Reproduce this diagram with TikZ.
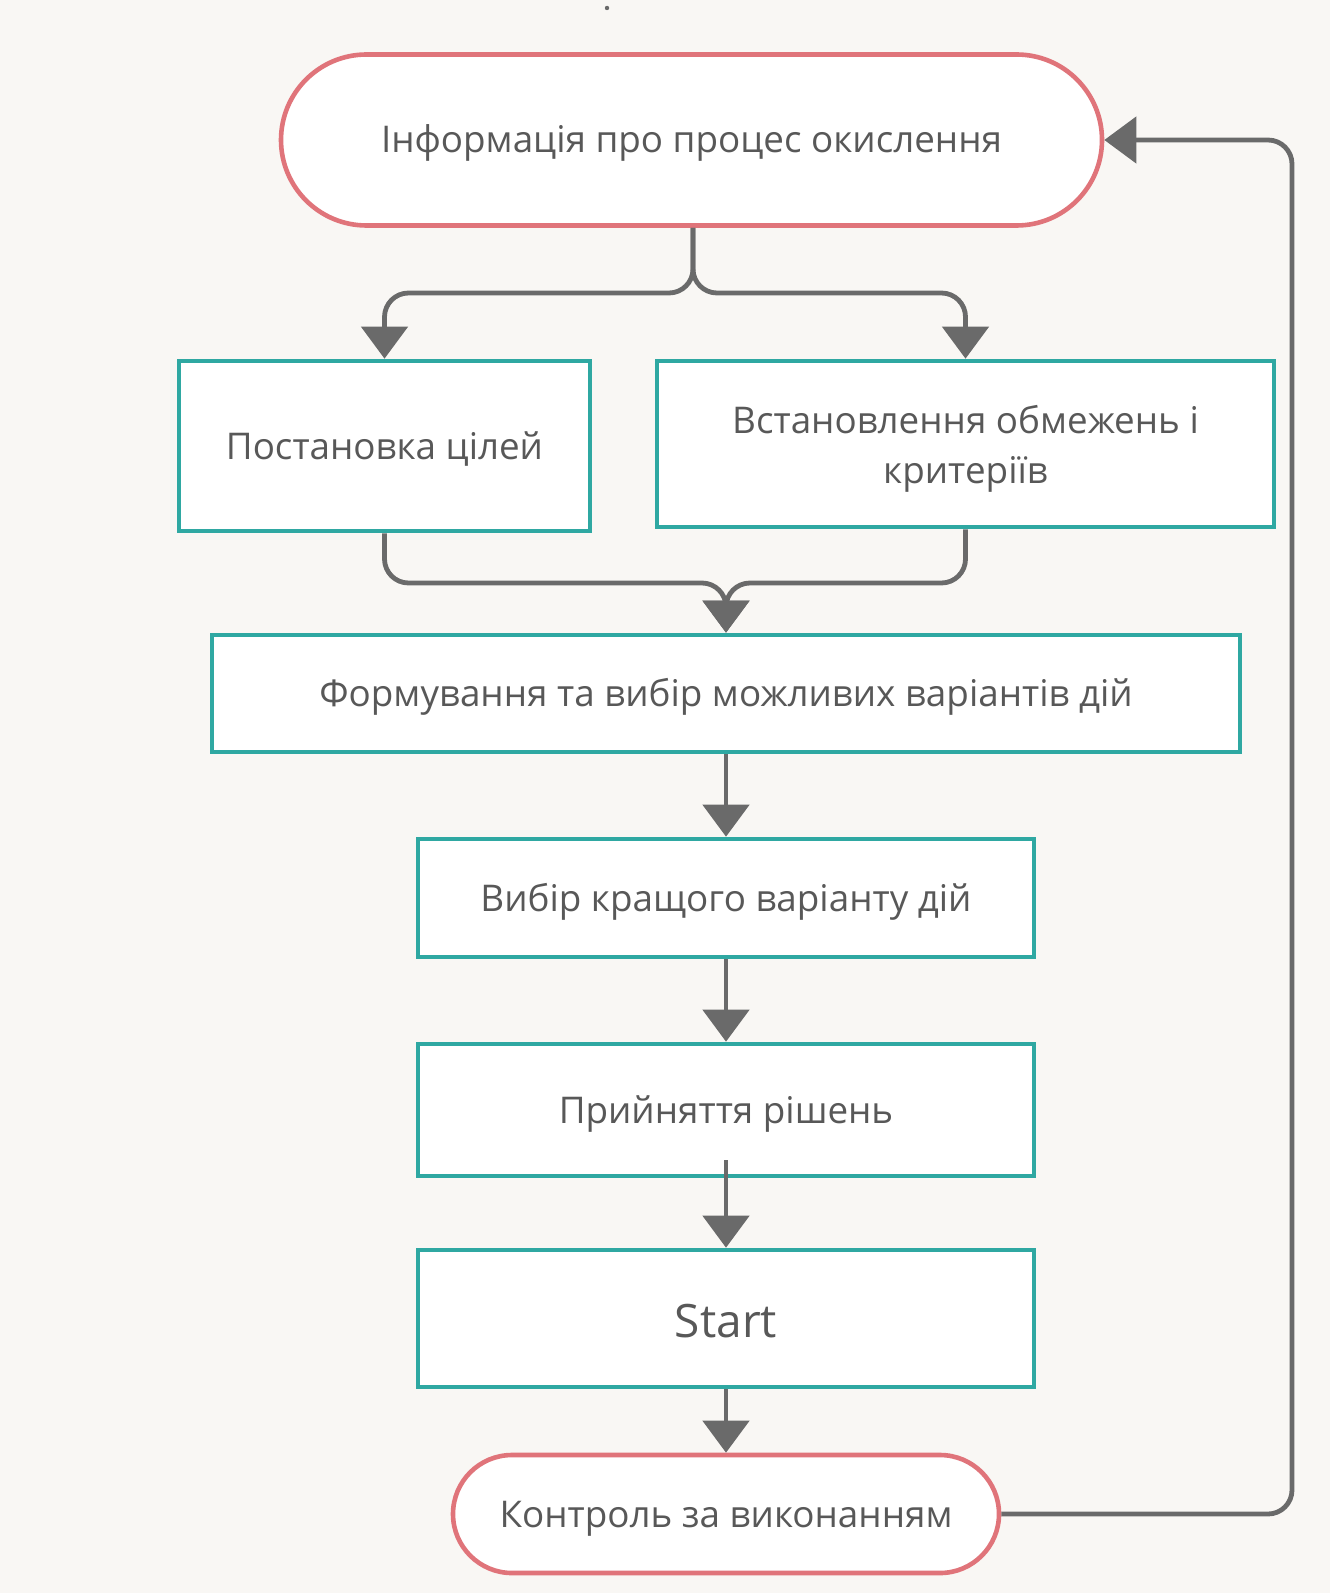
\documentclass[tikz,border=0pt]{standalone}
\usepackage{fontspec}
\setmainfont{Open Sans}
\usetikzlibrary{arrows.meta}
\definecolor{paper}{HTML}{F9F7F4}
\definecolor{tealline}{HTML}{2FA8A2}
\definecolor{redline}{HTML}{E0747A}
\definecolor{linkgray}{HTML}{6A6A6A}
\definecolor{txtgray}{HTML}{585858}
\tikzset{
  boxtext/.style={text=txtgray, font=\fontsize{18.4}{25}\selectfont,
    align=center, inner sep=0pt, text height=18pt, text depth=5pt},
  procbox/.style={boxtext, draw=tealline, line width=2.3pt, fill=white},
  termbox/.style={boxtext, draw=redline, line width=2.3pt, fill=white},
  link/.style={draw=linkgray, line width=2.4pt, rounded corners=12pt},
  flow/.style={link, -{Triangle[width=23pt,length=16pt]}},
}
\begin{document}
\begin{tikzpicture}[x=0.5pt,y=-0.5pt]
  % page and background
  \useasboundingbox (0,0) rectangle (1330,1593);
  \fill[paper] (0,0) rectangle (1330,1593);
  \fill[linkgray] (607,8) circle (2.2);

  % terminals
  \node[termbox, minimum width=410.5pt, minimum height=85.5pt, rounded corners=42.75pt]
    (info) at (691.5,140) {Інформація про процес окислення};
  \node[termbox, minimum width=273pt, minimum height=59pt, rounded corners=29.5pt]
    (control) at (726,1514) {Контроль за виконанням};

  % process boxes
  \node[procbox, minimum width=205.5pt, minimum height=85pt]
    (goals) at (384.5,446) {Постановка цілей};
  \node[procbox, minimum width=308.5pt, minimum height=83pt,
    text height=, text depth=0pt]
    (limits) at (965.5,444) {Встановлення обмежень і\\критеріїв};
  \node[procbox, minimum width=514pt, minimum height=58.5pt]
    (variants) at (726,693.5) {Формування та вибір можливих варіантів дій};
  \node[procbox, minimum width=308pt, minimum height=59pt]
    (best) at (726,898) {Вибір кращого варіанту дій};
  \node[procbox, minimum width=308pt, minimum height=66pt]
    (decide) at (726,1110) {Прийняття рішень};
  \node[procbox, minimum width=308pt, minimum height=68.5pt,
    font=\fontsize{23}{28}\selectfont, text height=19.4pt, text depth=0pt]
    (start) at (726,1318.5) {Start};

  % branching from the information block
  \coordinate (split) at (693,293);
  \coordinate (merge) at (726,583);
  \draw[flow] (info.south -| split) |- (split -| goals.north) -- (goals.north);
  \draw[flow] (info.south -| split) |- (split -| limits.north) -- (limits.north);

  % joining into the variants block
  \draw[flow] (goals.south) |- (merge) -- (variants.north);
  \draw[flow] (limits.south) |- (merge) -- (variants.north);

  % main chain
  \draw[flow] (variants.south) -- (best.north);
  \draw[flow] (best.south) -- (decide.north);
  \draw[flow, shorten <=-9pt] (decide.south) -- (start.north);
  \draw[flow] (start.south) -- (control.north);

  % feedback loop
  \coordinate (loop) at (1292,1514);
  \draw[flow] (control.east) -- (loop) |- (info.east);
\end{tikzpicture}
\end{document}
